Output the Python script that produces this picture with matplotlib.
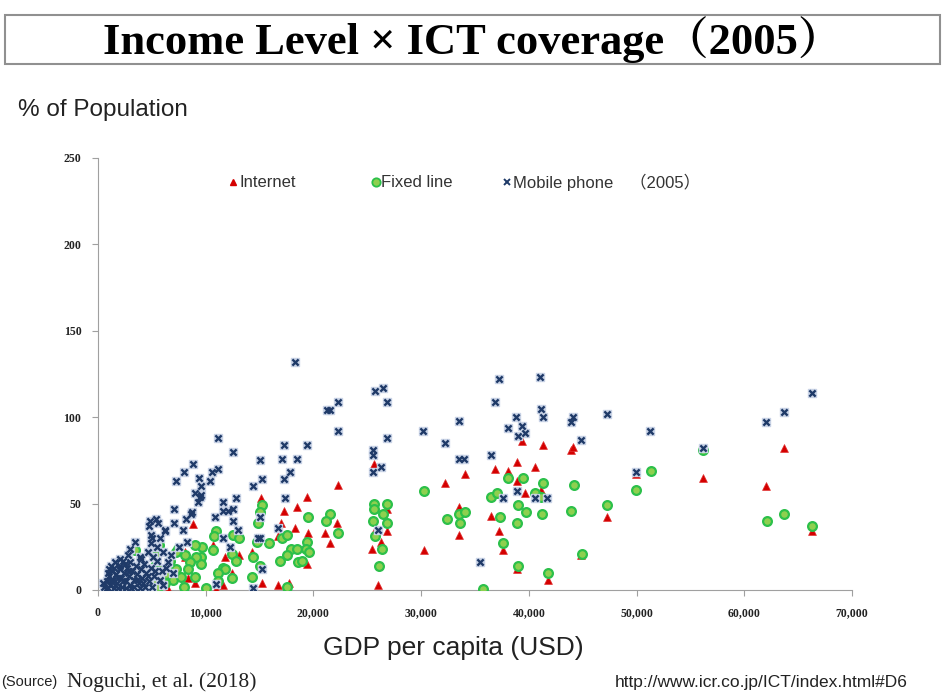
import matplotlib
matplotlib.use("Agg")
import matplotlib.pyplot as plt
import numpy as np
from matplotlib.lines import Line2D
from matplotlib.patches import Rectangle

# GDP per capita (thousand USD) / % of population, 2005
internet_x = [8.8, 5.3, 6.5, 8.1, 8.4, 9.0, 6.5, 4.2, 3.2, 2.5, 4.0, 5.4, 8.1, 15.1, 17.3, 18.5, 19.4,
              17.0, 18.3, 16.7, 19.4, 11.8, 13.1, 10.7, 12.4, 11.6, 11.0, 14.3, 16.7, 17.7, 22.3, 22.2,
              21.1, 21.5, 19.5, 25.6, 25.7, 26.3, 26.8, 25.4, 26.8, 26.0, 32.2, 34.1, 30.3, 33.5, 33.5,
              36.5, 36.9, 37.2, 37.6, 38.1, 38.9, 38.9, 39.4, 39.6, 40.6, 41.1, 41.3, 38.9, 41.8, 43.9,
              44.1, 44.8, 47.3, 49.9, 56.2, 62.0, 63.7, 66.3, 2.0, 1.0, 15.2]
internet_y = [38, 23, 17, 19, 7, 4, 0.5, 16, 14, 10, 7, 8, 22, 53, 46, 48, 54,
              39, 36, 31, 15, 19, 20, 26, 10, 3, 0.5, 22, 3, 4, 61, 39,
              33, 27, 33, 73, 35, 28, 34, 24, 47, 3, 62, 67, 23, 48, 32,
              43, 70, 34, 23, 69, 74, 63, 86, 56, 71, 58, 84, 12, 6, 81,
              83, 20, 42, 67, 65, 60, 82, 34, 3, 1, 4]

fixed_x = [11.0, 10.8, 9.7, 10.7, 12.5, 13.1, 12.4, 11.6, 11.8, 11.1, 12.4, 11.1, 9.6, 9.6, 14.4, 14.3,
           15.0, 15.2, 15.0, 14.9, 14.8, 17.1, 17.5, 17.9, 18.5, 16.9, 17.5, 18.6, 17.5, 19.4, 19.3,
           19.5, 19.6, 18.9, 21.5, 21.2, 22.3, 25.6, 25.6, 26.8, 26.5, 25.5, 26.8, 25.7, 26.4, 26.1,
           30.3, 32.4, 33.5, 33.6, 34.1, 35.7, 36.5, 37.0, 37.3, 37.6, 38.1, 38.9, 39.0, 39.5, 39.7,
           39.0, 40.6, 41.1, 41.3, 41.2, 41.8, 43.9, 44.2, 44.9, 47.3, 49.9, 51.3, 56.2, 62.1, 63.7,
           66.3, 3.4, 5.7, 7.4, 9.0, 9.1, 8.5, 8.1, 7.2, 6.7, 5.4, 5.3, 5.8, 6.3, 7.0, 7.7, 8.4, 9.0,
           7.2, 6.2, 5.6, 4.8, 4.2, 3.4, 2.8, 2.5, 3.0, 3.7, 4.4, 5.1, 0.9, 1.4, 1.9, 2.1, 10.0, 8.0,
           12.8, 15.9]
fixed_y = [34, 31, 25, 23, 32, 30, 21, 13, 12, 10, 7, 5, 19, 15, 19, 7.5,
           14, 49, 45, 39, 28, 30, 32, 24, 24, 17, 20, 16, 2, 28, 24,
           42, 22, 17, 44, 40, 33, 50, 47, 50, 44, 40, 39, 31, 24, 14,
           57, 41, 44, 39, 45, 0.5, 54, 56, 42, 27, 65, 39, 49, 65, 45,
           14, 56, 54, 62, 44, 10, 46, 61, 21, 49, 58, 69, 81, 40, 44,
           37, 23, 26, 24, 26, 19, 16, 20, 22, 17, 20, 14, 12, 9, 6, 7.5, 12, 7.5,
           12, 4, 2, 0.5, 1, 3, 5, 9, 12, 13, 6, 6, 0.5, 2, 0.5, 2, 1, 1.5,
           17, 27]

mobile_x = [18.3, 11.1, 12.5, 8.8, 8.0, 7.2, 9.4, 10.6, 11.1, 10.4, 9.0, 9.5, 9.3, 7.1, 11.6, 12.8, 8.7,
            11.6, 12.1, 12.5, 10.9, 12.5, 8.2, 7.1, 5.4, 4.8, 4.7, 6.2, 7.9, 5.8, 5.0, 13.0, 15.0, 15.2,
            14.4, 17.1, 17.3, 18.5, 19.4, 17.8, 17.3, 17.4, 16.7, 15.0, 15.0, 22.3, 21.3, 21.5, 22.3,
            25.7, 26.5, 26.8, 26.8, 25.5, 25.5, 25.5, 26.3, 26.0, 30.2, 32.2, 33.5, 33.5, 34.0, 35.5,
            36.5, 36.9, 37.2, 38.1, 38.8, 39.0, 39.4, 39.6, 38.9, 37.6, 40.6, 41.7, 41.0, 41.1, 41.3,
            43.9, 44.1, 44.8, 47.3, 49.9, 51.2, 56.2, 62.0, 63.7, 66.3, 9.6, 9.6, 11.6, 12.3, 14.9,
            15.2, 11.0, 14.4, 8.6, 5.6, 6.2, 4.9, 3.4, 3.0, 4.9, 6.0, 5.1, 6.5, 1.6, 2.0, 2.5,
            0.6, 0.8, 1.0, 1.1, 1.3, 1.4, 1.5, 1.7, 1.8, 2.0, 2.1, 2.2, 2.4, 2.6, 2.7, 2.9, 3.0, 3.2,
            3.3, 3.5, 3.6, 3.8, 4.0, 4.1, 4.3, 4.5, 4.7, 4.9, 5.2, 5.5, 1.2, 0.9, 2.3, 3.9, 5.9, 6.8,
            7.5, 8.3, 0.7, 1.9, 3.1, 4.4, 2.8, 1.5,
            0.5, 0.9, 1.2, 1.6, 1.9, 2.3, 2.6, 2.9, 3.3, 3.6, 3.9, 4.2, 4.6, 5.0, 5.3, 5.8, 6.3, 6.0,
            7.0, 2.0, 1.0, 3.0, 4.0, 4.6, 5.5]
mobile_y = [132, 88, 80, 73, 68, 63, 65, 68, 70, 63, 56, 54, 51, 47, 51, 53, 45,
            46, 46, 47, 42, 40, 41, 39, 41, 40, 37, 35, 35, 30, 30, 35, 75, 64,
            60, 76, 84, 76, 84, 68, 64, 53, 36, 42, 30, 109, 104, 104, 92,
            115, 117, 109, 88, 81, 78, 68, 71, 35, 92, 85, 98, 76, 76, 16,
            78, 109, 122, 94, 100, 89, 95, 91, 57, 53, 53, 53, 123, 105, 100,
            97, 100, 87, 102, 68, 92, 82, 97, 103, 114, 60, 55, 30, 25, 30,
            12, 3.5, 1, 44, 39, 34, 32, 28, 24, 27, 22, 19, 16, 16, 18, 15,
            2, 5, 8, 3, 11, 6, 1, 9, 4, 12, 7, 2, 10, 5, 13, 8, 3, 11,
            6, 14, 9, 4, 12, 7, 15, 10, 5, 13, 8, 17, 14, 10, 17, 19, 11, 20,
            25, 28, 0.5, 1, 1, 2, 20, 13,
            4, 1, 6, 3, 7, 5, 1, 11, 2, 6, 1, 4, 8, 2, 11, 6, 13, 3,
            10, 14, 12, 16, 18, 22, 25]

xticks = [0, 10000, 20000, 30000, 40000, 50000, 60000, 70000]
yticks = [0, 50, 100, 150, 200, 250]
series_labels = ['Internet', 'Fixed line', 'Mobile phone　（2005）']

serif_bold = dict(family='Liberation Serif', fontweight='bold')
red = '#d40000'
green_face, green_edge = '#8ed04f', '#2cc04a'
navy = '#1f3a68'

fig = plt.figure(figsize=(9.45, 6.92), dpi=100)
ax = fig.add_axes([0.1037, 0.1474, 0.7979, 0.6243])

ax.scatter(np.array(internet_x) * 1000, internet_y, marker='^', s=32, color=red,
           edgecolors='#e03030', linewidths=0.5, zorder=3)
ax.scatter(np.array(fixed_x) * 1000, fixed_y, marker='o', s=40, facecolor=green_face,
           edgecolors=green_edge, linewidths=1.6, zorder=4)
ax.scatter(np.array(mobile_x) * 1000, mobile_y, marker='s', s=32, color='#c9d3e6', zorder=5)
ax.scatter(np.array(mobile_x) * 1000, mobile_y, marker='x', s=20, color=navy,
           linewidths=1.7, zorder=6)

ax.set_xlim(0, 70000)
ax.set_ylim(0, 250)
ax.set_xticks(xticks)
ax.set_yticks(yticks)
ax.set_xticklabels(['{:,}'.format(v) for v in xticks], fontsize=8.5, color='#222222', **serif_bold)
ax.set_yticklabels([str(v) for v in yticks], fontsize=8.5, color='#222222', **serif_bold)
for s in ['top', 'right']:
    ax.spines[s].set_visible(False)
for s in ['left', 'bottom']:
    ax.spines[s].set_color('#a0a0a0')
ax.tick_params(direction='out', length=4, color='#a0a0a0', pad=8)

# legend written as marker + text inside the plot area (Excel style)
leg_y = 1 - 182 / 692
leg_items = [
    (233, 240, dict(marker='^', color=red, markersize=5)),
    (376, 381, dict(marker='o', markerfacecolor=green_face, markeredgecolor=green_edge,
                    markeredgewidth=1.3, markersize=6)),
    (507, 513, dict(marker='x', color=navy, markersize=4, markeredgewidth=1.4)),
]
for (mx, tx, style), label in zip(leg_items, series_labels):
    fig.add_artist(Line2D([mx / 945], [leg_y], transform=fig.transFigure, ls='', **style))
    fig.text(tx / 945, leg_y, label, ha='left', va='center', fontsize=12, color='#333333',
             family=['Liberation Sans', 'Noto Sans CJK JP'])

# title box
fig.patches.append(Rectangle((5 / 945, 1 - 64 / 692), 935 / 945, 49 / 692,
                             transform=fig.transFigure, fill=False, edgecolor='#909090',
                             linewidth=1.5))
fig.text(0.5, 1 - 40 / 692, 'Income Level × ICT coverage（2005）', ha='center', va='center',
         fontsize=32, fontweight='bold', family=['Liberation Serif', 'Noto Serif CJK JP', 'Noto Sans CJK JP'])

fig.text(18 / 945, 1 - 110 / 692, '% of Population', ha='left', va='center', fontsize=17.5,
         family='Liberation Sans', color='#222222')
fig.text(453 / 945, 1 - 648 / 692, 'GDP per capita (USD)', ha='center', va='center', fontsize=19,
         family='Liberation Sans', color='#222222')
fig.text(1 / 945, 1 - 682 / 692, '(Source)', ha='left', va='center', fontsize=10.5,
         family='Liberation Sans', color='#222222')
fig.text(67 / 945, 1 - 682 / 692, 'Noguchi, et al. (2018)', ha='left', va='center', fontsize=15.5,
         family='Liberation Serif', color='#222222')
fig.text(615 / 945, 1 - 683 / 692, 'http://www.icr.co.jp/ICT/index.html#D6', ha='left', va='center',
         fontsize=12.5, family='Liberation Sans', color='#222222')

fig.savefig('out.png', dpi=100)
